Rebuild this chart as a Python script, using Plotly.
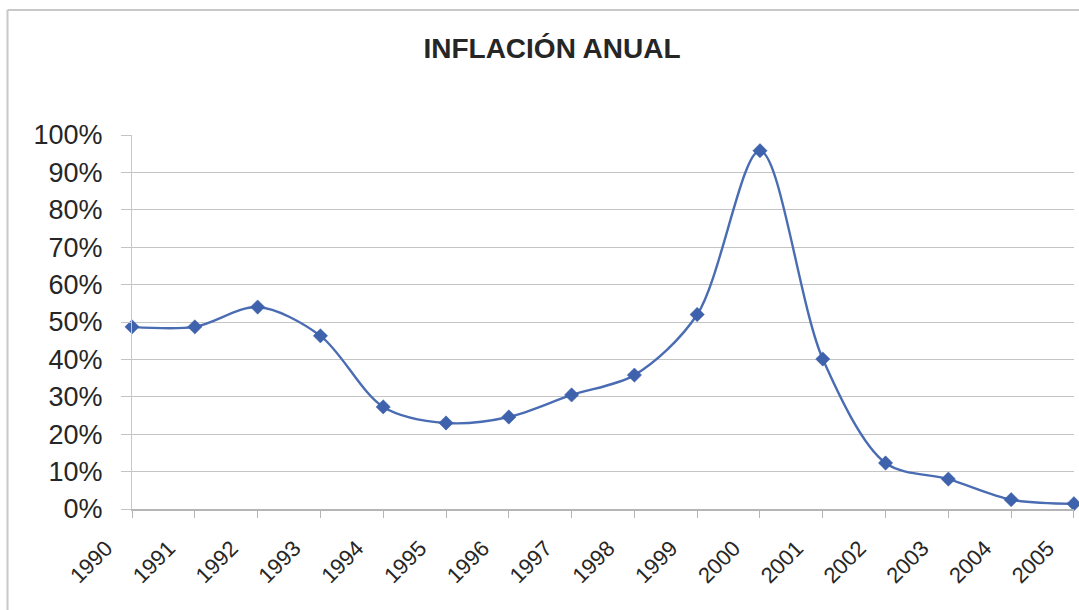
import plotly.graph_objects as go

# Annual inflation, 1990-2005 (fraction of 1)
years = [1990, 1991, 1992, 1993, 1994, 1995, 1996, 1997,
         1998, 1999, 2000, 2001, 2002, 2003, 2004, 2005]
inflation = [0.487, 0.487, 0.540, 0.463, 0.273, 0.230, 0.246, 0.305,
             0.358, 0.520, 0.958, 0.401, 0.123, 0.080, 0.025, 0.014]
year_labels = [str(y) for y in years]
y_ticks = [i / 10 for i in range(11)]

W, H = 1079, 610
L, R, T, B = 132, 5, 135, 101
pw, ph = W - L - R, H - T - B

def px_x(x):
    return (x - L) / pw

def px_y(y):
    return (H - B - y) / ph

line_color = "#4a6cb3"
text_color = "#262626"
grid_color = "#c4c4c4"
font_family = "Liberation Sans, Arial, sans-serif"

fig = go.Figure()
fig.add_trace(go.Scatter(
    x=years,
    y=inflation,
    mode="lines+markers",
    line=dict(color=line_color, width=2.4, shape="spline", smoothing=0.9),
    marker=dict(symbol="diamond", size=11, color="#3f62ad",
                line=dict(color="#3a5ca6", width=0.5)),
    showlegend=False,
    cliponaxis=False,
))

fig.update_layout(
    width=W,
    height=H,
    margin=dict(l=L, r=R, t=T, b=B, autoexpand=False),
    paper_bgcolor="white",
    plot_bgcolor="white",
    title=dict(
        text="<b>INFLACIÓN ANUAL</b>",
        x=552 / W,
        xanchor="center",
        xref="container",
        y=1 - 48 / H,
        yanchor="middle",
        yref="container",
        font=dict(family=font_family, size=28, color=text_color),
    ),
    xaxis=dict(
        range=[years[0] - 0.001, years[-1] + 0.001],
        tickvals=years,
        ticktext=year_labels,
        tickangle=-45,
        tickfont=dict(family=font_family, size=22, color=text_color),
        showgrid=False,
        zeroline=False,
        showline=True,
        linecolor="#b5b5b5",
        linewidth=1.5,
        ticks="outside",
        ticklen=7,
        tickcolor="#b5b5b5",
        ticklabelstandoff=9,
        ticklabelshift=-26,
        ticklabeloverflow="allow",
        automargin=False,
        fixedrange=True,
    ),
    yaxis=dict(
        range=[0, 1],
        tickvals=y_ticks,
        tickformat=".0%",
        tickfont=dict(family=font_family, size=27, color=text_color),
        showgrid=True,
        gridcolor=grid_color,
        gridwidth=1,
        zeroline=False,
        showline=True,
        linecolor="#c8c8c8",
        linewidth=1,
        ticks="outside",
        ticklen=10,
        tickcolor=grid_color,
        ticklabelstandoff=13,
        automargin=False,
        fixedrange=True,
    ),
)

# chart frame (left and top edges)
fig.add_shape(type="line", xref="paper", yref="paper",
              x0=px_x(7.5), x1=px_x(W), y0=px_y(10), y1=px_y(10),
              line=dict(color="#c8c8c8", width=2))
fig.add_shape(type="line", xref="paper", yref="paper",
              x0=px_x(7.5), x1=px_x(7.5), y0=px_y(10), y1=px_y(H),
              line=dict(color="#c8c8c8", width=2))

fig.write_html("out.html")
